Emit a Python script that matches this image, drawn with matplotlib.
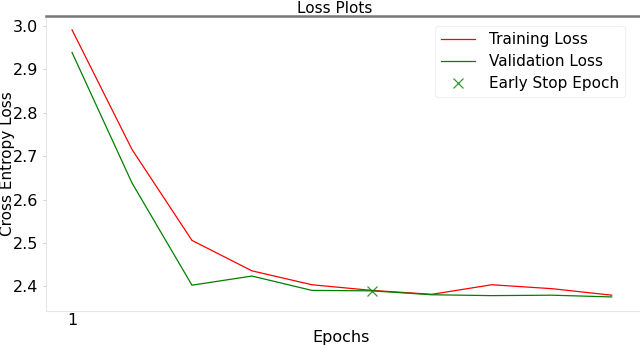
import matplotlib
matplotlib.use("Agg")
import matplotlib.pyplot as plt

epochs = [1, 2, 3, 4, 5, 6, 7, 8, 9, 10]
train_loss = [2.990, 2.715, 2.506, 2.436, 2.404, 2.391, 2.382, 2.404, 2.395, 2.380]
val_loss = [2.938, 2.638, 2.403, 2.424, 2.391, 2.390, 2.381, 2.379, 2.380, 2.376]
early_stop_epoch = 6
early_stop_loss = 2.390
y_ticks = [2.4, 2.5, 2.6, 2.7, 2.8, 2.9, 3.0]

fig = plt.figure(figsize=(6.4, 3.45), dpi=100)
ax = fig.add_axes([0.072, 0.099, 0.94, 0.856])

ax.plot(epochs, train_loss, color="red", lw=0.9, label="Training Loss")
ax.plot(epochs, val_loss, color="green", lw=0.9, label="Validation Loss")
ax.plot([early_stop_epoch], [early_stop_loss], "x", color="green", ms=7,
        mew=0.9, label="Early Stop Epoch", alpha=0.8)

ax.set_xlim(0.567, 10.6)
ax.set_ylim(2.344, 3.023)
ax.set_xticks([1])
ax.set_yticks(y_ticks)
ax.tick_params(axis="both", labelsize=11.5, length=2, color="#cccccc", width=0.6)
ax.tick_params(axis="x", length=0, pad=1.5)

for s in ["left", "bottom", "right"]:
    ax.spines[s].set_color("#e6e6e6")
    ax.spines[s].set_linewidth(0.8)
ax.spines["top"].set_color("#777777")
ax.spines["top"].set_linewidth(1.8)

ax.set_title("Loss Plots", fontsize=11, pad=1.5, x=0.48)
ax.set_xlabel("Epochs", fontsize=11.5)
ax.xaxis.set_label_coords(0.49, -0.065)
ax.set_ylabel("Cross Entropy Loss", fontsize=11)
ax.yaxis.set_label_coords(-0.051, 0.5)

leg = ax.legend(loc="upper right", bbox_to_anchor=(0.975, 0.99), fontsize=11,
                framealpha=1, edgecolor="#f0f0f0", handlelength=2.2,
                handletextpad=0.9, borderpad=0.4, labelspacing=0.45)
leg.get_frame().set_linewidth(0.8)

fig.savefig("out.png", dpi=100)
